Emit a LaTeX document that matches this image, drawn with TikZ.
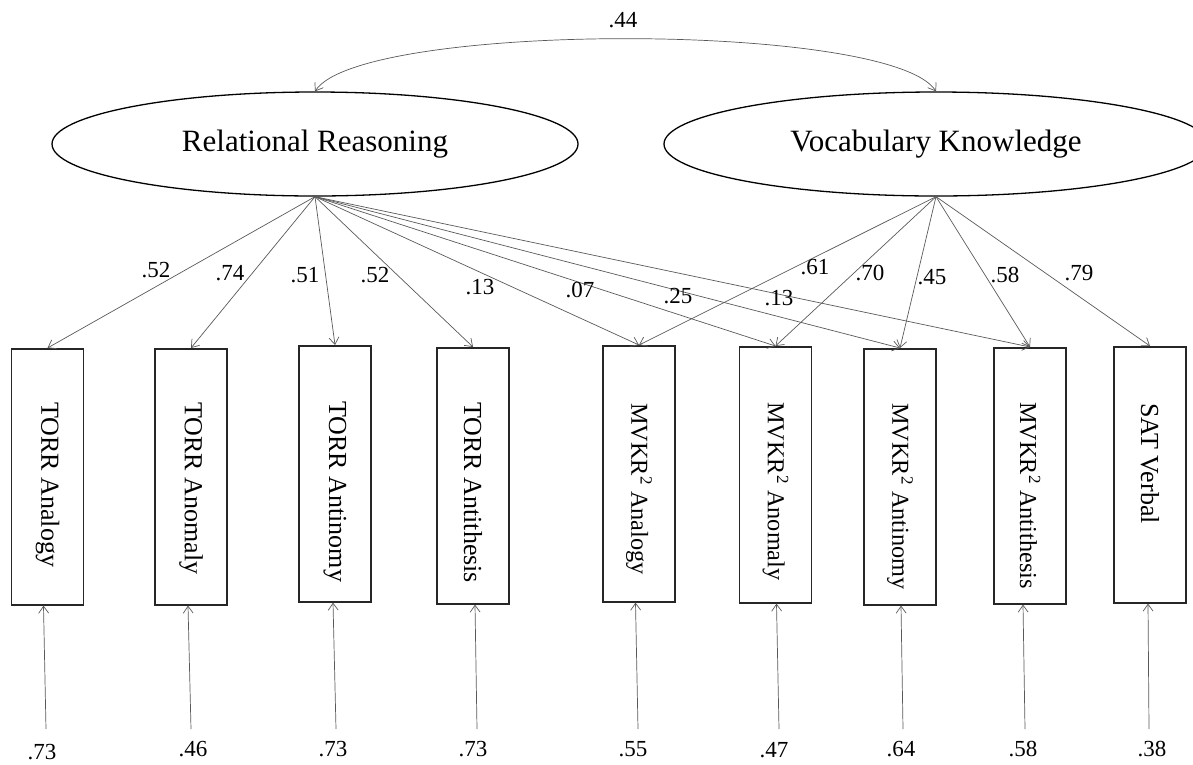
\documentclass[tikz,border=0pt]{standalone}
\usepackage{fontspec}
\setmainfont{Liberation Serif}
\usetikzlibrary{arrows.meta,shapes.geometric}
\begin{document}
\begin{tikzpicture}[x=1pt,y=-1pt,
  latent/.style={draw=black, line width=1.3pt, ellipse, inner sep=0pt,
    minimum height=104pt, font=\fontsize{31}{37}\selectfont},
  obs/.style={draw=black!85, line width=1.6pt, minimum width=72pt,
    minimum height=256pt, inner sep=0pt, anchor=north},
  obslabel/.style={rotate=-90, anchor=west, inner sep=0pt,
    font=\fontsize{26}{30}\selectfont},
  mvkrlabel/.style={obslabel, font=\fontsize{24.3}{29}\selectfont},
  coef/.style={font=\fontsize{23}{28}\selectfont, inner sep=0pt},
  conn/.style={draw=black!65, line width=0.7pt,
    -{Straight Barb[length=7pt,width=10pt,line width=0.7pt]}},
  cov/.style={draw=black!65, line width=0.7pt,
    {Straight Barb[length=7pt,width=10pt,line width=0.7pt]}-{Straight Barb[length=7pt,width=10pt,line width=0.7pt]}},
]
\path[use as bounding box, clip] (0,0) rectangle (1193,764);

% latent variables
\node[latent, minimum width=526pt] (rr) at (315,144) {Relational Reasoning};
\node[latent, minimum width=544pt] (vk) at (936,144) {Vocabulary Knowledge};

% observed variables
\node[obs] (b1) at (47.5,348) {};
\node[obs] (b2) at (191,348) {};
\node[obs] (b3) at (335,345) {};
\node[obs] (b4) at (473,347) {};
\node[obs] (b5) at (639,345) {};
\node[obs] (b6) at (775.5,346) {};
\node[obs] (b7) at (900,348) {};
\node[obs] (b8) at (1030,347) {};
\node[obs] (b9) at (1150,346) {};

\node[obslabel] (t1) at (47.5,402) {TORR Analogy};
\node[obslabel] (t2) at (191,402) {TORR Anomaly};
\node[obslabel] (t3) at (335,401) {TORR Antinomy};
\node[obslabel] (t4) at (473,402) {TORR Antithesis};
\node[mvkrlabel] (t5) at (639,403) {MVKR\textsuperscript{2} Analogy};
\node[mvkrlabel] (t6) at (775.5,402) {MVKR\textsuperscript{2} Anomaly};
\node[mvkrlabel] (t7) at (900,403) {MVKR\textsuperscript{2} Antinomy};
\node[mvkrlabel] (t8) at (1030,402) {MVKR\textsuperscript{2} Antithesis};
\node[obslabel] (t9) at (1150,403) {SAT Verbal};

% covariance
\draw[cov] (rr.north) .. controls +(45,-70) and +(-45,-70) .. (vk.north);
\node[coef] (c0) at (623,20) {.44};

% loadings
\foreach \b in {b1,b2,b3,b4,b5,b6,b7,b8}
  \draw[conn] (rr.south) -- (\b.north);
\foreach \b in {b5,b6,b7,b8,b9}
  \draw[conn] (vk.south) -- (\b.north);

\node[coef] (l1) at (156,270) {.52};
\node[coef] (l2) at (230,273) {.74};
\node[coef] (l3) at (305,275) {.51};
\node[coef] (l4) at (375,275) {.52};
\node[coef] (l5) at (480,287) {.13};
\node[coef] (l6) at (580,290) {.07};
\node[coef] (l7) at (678,296) {.25};
\node[coef] (l8) at (779,298) {.13};
\node[coef] (m1) at (815,267) {.61};
\node[coef] (m2) at (870,273) {.70};
\node[coef] (m3) at (932,277) {.45};
\node[coef] (m4) at (1005,275) {.58};
\node[coef] (m5) at (1079,273) {.79};

% error terms
\coordinate (e1) at (46,729);
\coordinate (e2) at (191,729);
\coordinate (e3) at (336,729);
\coordinate (e4) at (477,729);
\coordinate (e5) at (638,729);
\coordinate (e6) at (779,729);
\coordinate (e7) at (903,729);
\coordinate (e8) at (1025,729);
\coordinate (e9) at (1149,729);
\draw[conn] (e1) -- ([xshift=-4pt]b1.south);
\draw[conn] (e2) -- ([xshift=-3pt]b2.south);
\draw[conn] (e3) -- ([xshift=-2pt]b3.south);
\draw[conn] (e4) -- ([xshift=2pt]b4.south);
\draw[conn] (e5) -- ([xshift=-3.5pt]b5.south);
\draw[conn] (e6) -- ([xshift=1pt]b6.south);
\draw[conn] (e7) -- ([xshift=1pt]b7.south);
\draw[conn] (e8) -- ([xshift=-7pt]b8.south);
\draw[conn] (e9) -- ([xshift=-2pt]b9.south);

\node[coef] (r1) at (42,752) {.73};
\node[coef] (r2) at (193,749) {.46};
\node[coef] (r3) at (333,749) {.73};
\node[coef] (r4) at (473,749) {.73};
\node[coef] (r5) at (633,749) {.55};
\node[coef] (r6) at (774,750) {.47};
\node[coef] (r7) at (901,749) {.64};
\node[coef] (r8) at (1023,749) {.58};
\node[coef] (r9) at (1152,749) {.38};
\end{tikzpicture}
\end{document}
